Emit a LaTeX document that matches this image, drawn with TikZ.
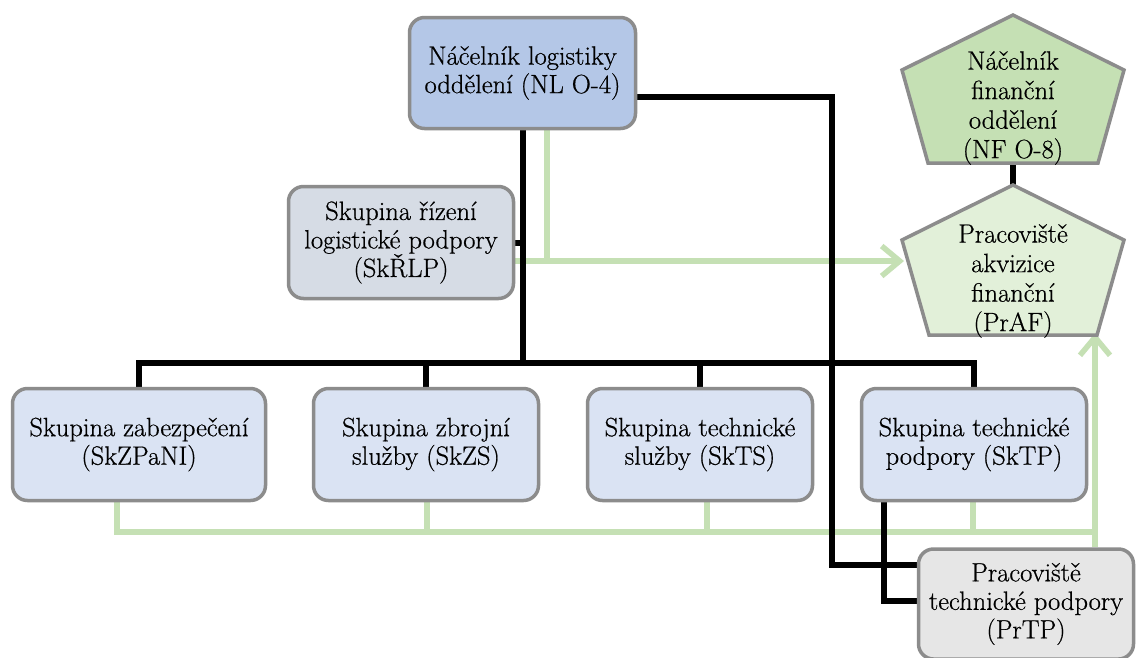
\documentclass[tikz,border=0pt]{standalone}
\usepackage{fontspec}
\newfontfamily\lmr{Latin Modern Roman}[FakeBold=0.6]
\usetikzlibrary{arrows.meta,calc}
\definecolor{nlblue}{RGB}{180,199,231}
\definecolor{skgray}{RGB}{214,220,229}
\definecolor{boxblue}{RGB}{218,227,243}
\definecolor{prgray}{RGB}{230,230,230}
\definecolor{nfgreen}{RGB}{197,224,180}
\definecolor{afgreen}{RGB}{226,240,217}
\definecolor{lgreen}{RGB}{197,224,180}
\definecolor{bordergray}{RGB}{140,140,140}
\pgfdeclarelayer{bg}
\pgfdeclarelayer{lines}
\pgfsetlayers{bg,lines,main}
\tikzset{
  box/.style={draw=bordergray, line width=3.5pt, rounded corners=15pt, align=center,
    inner sep=0pt, font=\lmr\fontsize{26.5}{28.5}\selectfont, text=black},
  penta/.style={draw=bordergray, line width=3.5pt},
  ptext/.style={align=center, inner sep=0pt, font=\lmr\fontsize{26.5}{29.5}\selectfont},
  blk/.style={line width=6pt, draw=black},
  grn/.style={line width=5.5pt, draw=lgreen},
  garrow/.style={grn, -{Straight Barb[length=18pt,width=30pt]}},
}
\begin{document}
\begin{tikzpicture}[x=1pt,y=-1pt]
\useasboundingbox (0,0) rectangle (1136,657);
\begin{pgfonlayer}{bg}
\fill[white] (0,0) rectangle (1136,657);
\end{pgfonlayer}

% boxes
\node[box, fill=nlblue, minimum width=226pt, minimum height=111pt] (nl) at (522.5,73) {Náčelník logistiky\\oddělení (NL O-4)};
\node[box, fill=skgray, minimum width=225pt, minimum height=112pt] (sk) at (401,242.5) {Skupina řízení\\logistické podpory\\(SkŘLP)};
\node[box, fill=boxblue, minimum width=253pt, minimum height=112pt] (b1) at (139,444.5) {Skupina zabezpečení\\(SkZPaNI)};
\node[box, fill=boxblue, minimum width=225pt, minimum height=112pt] (b2) at (426,444.5) {Skupina zbrojní\\služby (SkZS)};
\node[box, fill=boxblue, minimum width=225pt, minimum height=112pt] (b3) at (700,444.5) {Skupina technické\\služby (SkTS)};
\node[box, fill=boxblue, minimum width=225pt, minimum height=112pt] (b4) at (974,444.5) {Skupina technické\\podpory (SkTP)};
\node[box, fill=prgray, minimum width=215pt, minimum height=110pt] (prtp) at (1026,604) {Pracoviště\\technické podpory\\(PrTP)};

% pentagons
\filldraw[penta, fill=nfgreen] (1013,15) -- (1124,70) -- (1098,163) -- (928,163) -- (902,70) -- cycle;
\node[ptext] (nf) at (1013,108) {Náčelník\\finanční\\oddělení\\(NF O-8)};
\coordinate (nfbot) at (1013,163);
\filldraw[penta, fill=afgreen] (1013,185) -- (1124,240) -- (1097,335) -- (929,335) -- (902,240) -- cycle;
\node[ptext] (praf) at (1013,281) {Pracoviště\\akvizice\\finanční\\(PrAF)};
\coordinate (praftop) at (1013,185);
\coordinate (prafleft) at (904,261);
\coordinate (prafbot) at (1095,333);

% helper coordinates
\coordinate (g1) at (547,261);
\coordinate (gb) at (117,532);
\coordinate (gr) at (1095,532);
\coordinate (c1) at (832,565);
\coordinate (c2) at (884,601);
\coordinate (bus) at (0,363);

\begin{pgfonlayer}{lines}
% green connectors
\draw[grn] (nl.south -| g1) -- (g1);
\draw[garrow] (sk.east |- g1) -- (prafleft);
\draw[grn] (b1.south -| gb) -- (gb) -- (gr);
\draw[grn] (b2.south -| 427,0) -- (427,532);
\draw[grn] (b3.south -| 707,0) -- (707,532);
\draw[grn] (b4.south -| 973,0) -- (973,532);
\draw[garrow] (prtp.north -| gr) -- (prafbot);
% black connectors
\draw[blk] ($(nl.east)+(0,24)$) -| (c1) -- (c1 -| prtp.west);
\draw[blk] (nl.south) -- (nl.south |- bus);
\draw[blk] (b1.north) |- (bus -| b4.north) -- (b4.north);
\draw[blk] (b2.north) -- (b2.north |- bus);
\draw[blk] (b3.north) -- (b3.north |- bus);
\draw[blk] (sk.east) -- (sk.east -| nl.south);
\draw[blk] (b4.south -| c2) -- (c2) -- (c2 -| prtp.west);
\draw[blk] (nfbot) -- (praftop);
\end{pgfonlayer}
\end{tikzpicture}
\end{document}
